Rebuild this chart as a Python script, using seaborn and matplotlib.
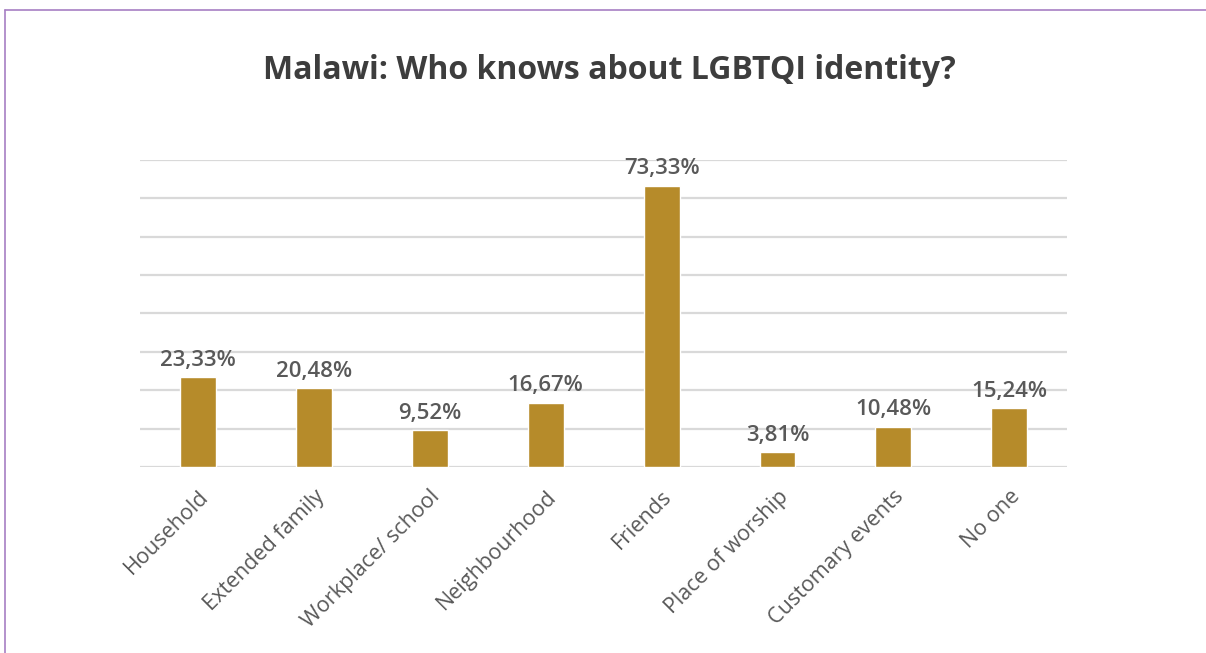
import numpy as np
import pandas as pd
import seaborn as sns
import matplotlib.pyplot as plt
from matplotlib.lines import Line2D

# data
categories = ["Household", "Extended family", "Workplace/ school", "Neighbourhood",
              "Friends", "Place of worship", "Customary events", "No one"]
shares = [23.33, 20.48, 9.52, 16.67, 73.33, 3.81, 10.48, 15.24]
title = "Malawi: Who knows about LGBTQI identity?"

df = pd.DataFrame({"who": categories, "share": shares})

sns.set_theme(style="white")
plt.rcParams['font.family'] = ['Open Sans', 'DejaVu Sans']

fig = plt.figure(figsize=(12.06, 6.53), dpi=100)
ax = fig.add_axes([0.116, 0.285, 0.769, 0.470])

sns.barplot(data=df, x="who", y="share", color="#b68b2a", saturation=1,
            width=0.31, ax=ax, zorder=3)

ax.set_ylim(0, 80)
ax.set_yticks(np.arange(0, 81, 10))
ax.yaxis.grid(True, color="#d9d9d9", linewidth=1.6, zorder=0)
ax.set_yticklabels([])
ax.tick_params(axis="y", length=0)
ax.tick_params(axis="x", length=0, pad=14)
for s in ax.spines.values():
    s.set_visible(False)
ax.set_xlabel("")
ax.set_ylabel("")

ax.set_xticks(range(len(categories)))
ax.set_xticklabels(categories, rotation=45, ha="right", rotation_mode="anchor",
                   fontsize=15.5, color="#595959")

for i, v in enumerate(shares):
    ax.text(i, v + 1.7, f"{v:.2f}%".replace(".", ","), ha="center", va="bottom",
            fontsize=16, color="#595959", fontweight="semibold")

fig.text(0.505, 0.892, title, ha="center", va="center", fontsize=23,
         fontweight="bold", color="#3d3d3d")

# purple frame lines (top and left)
fig.add_artist(Line2D([5 / 1206, 1], [1 - 10 / 653, 1 - 10 / 653],
                      color="#a77fc4", linewidth=1.2, transform=fig.transFigure))
fig.add_artist(Line2D([5 / 1206, 5 / 1206], [0, 1 - 10 / 653],
                      color="#a77fc4", linewidth=1.2, transform=fig.transFigure))

plt.savefig("out.png", dpi=100)
